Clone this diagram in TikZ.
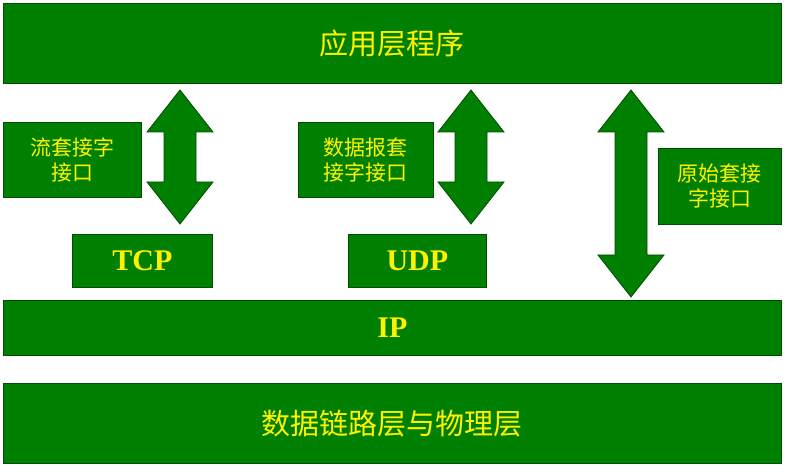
\documentclass[tikz,border=0pt]{standalone}
\usepackage{fontspec}
\setmainfont{Liberation Serif}
\newfontfamily\cjk{Noto Sans CJK SC}
\begin{document}
\begin{tikzpicture}[x=1pt,y=-1pt,
  blk/.style={draw=black!70!green,line width=0.8pt,fill=green!50!black},
  txt/.style={text=yellow,font=\cjk\fontsize{21}{25}\selectfont,align=center},
  big/.style={text=yellow,font=\cjk\fontsize{29}{33}\selectfont},
  lat/.style={text=yellow,font=\bfseries\fontsize{30}{34}\selectfont}]
\useasboundingbox (0,0) rectangle (785,470);
\newcommand\darrow[4]{% cx, top, bottom, name
  \fill[green!50!black,draw=black!70!green,line width=0.8pt] (#1,#2) -- (#1+33,#2+42) -- (#1+16,#2+42) -- (#1+16,#3-42) -- (#1+33,#3-42) -- (#1,#3) -- (#1-33,#3-42) -- (#1-16,#3-42) -- (#1-16,#2+42) -- (#1-33,#2+42) -- cycle;}
\node[blk,minimum width=778,minimum height=80,anchor=north west] (app) at (3,3) {};
\node[big] at (app) {应用层程序};
\node[blk,minimum width=138,minimum height=75,anchor=north west] (s1) at (3,122) {};
\node[txt] at (s1) {流套接字\\接口};
\node[blk,minimum width=135,minimum height=75,anchor=north west] (s2) at (298,122) {};
\node[txt] at (s2) {数据报套\\接字接口};
\node[blk,minimum width=123,minimum height=76,anchor=north west] (s3) at (658,148) {};
\node[txt] at (s3) {原始套接\\字接口};
\node[blk,minimum width=140,minimum height=53,anchor=north west] (tcp) at (72,234) {};
\node[lat] at (tcp) {TCP};
\node[blk,minimum width=138,minimum height=53,anchor=north west] (udp) at (348,234) {};
\node[lat] at (udp) {UDP};
\node[blk,minimum width=778,minimum height=55,anchor=north west] (ip) at (3,300) {};
\node[lat] at (ip) {IP};
\node[blk,minimum width=778,minimum height=80,anchor=north west] (dl) at (3,383) {};
\node[big] at (dl) {数据链路层与物理层};
\darrow{180}{90}{224}{a1}
\darrow{471}{90}{224}{a2}
\darrow{631}{90}{297}{a3}
\end{tikzpicture}
\end{document}
